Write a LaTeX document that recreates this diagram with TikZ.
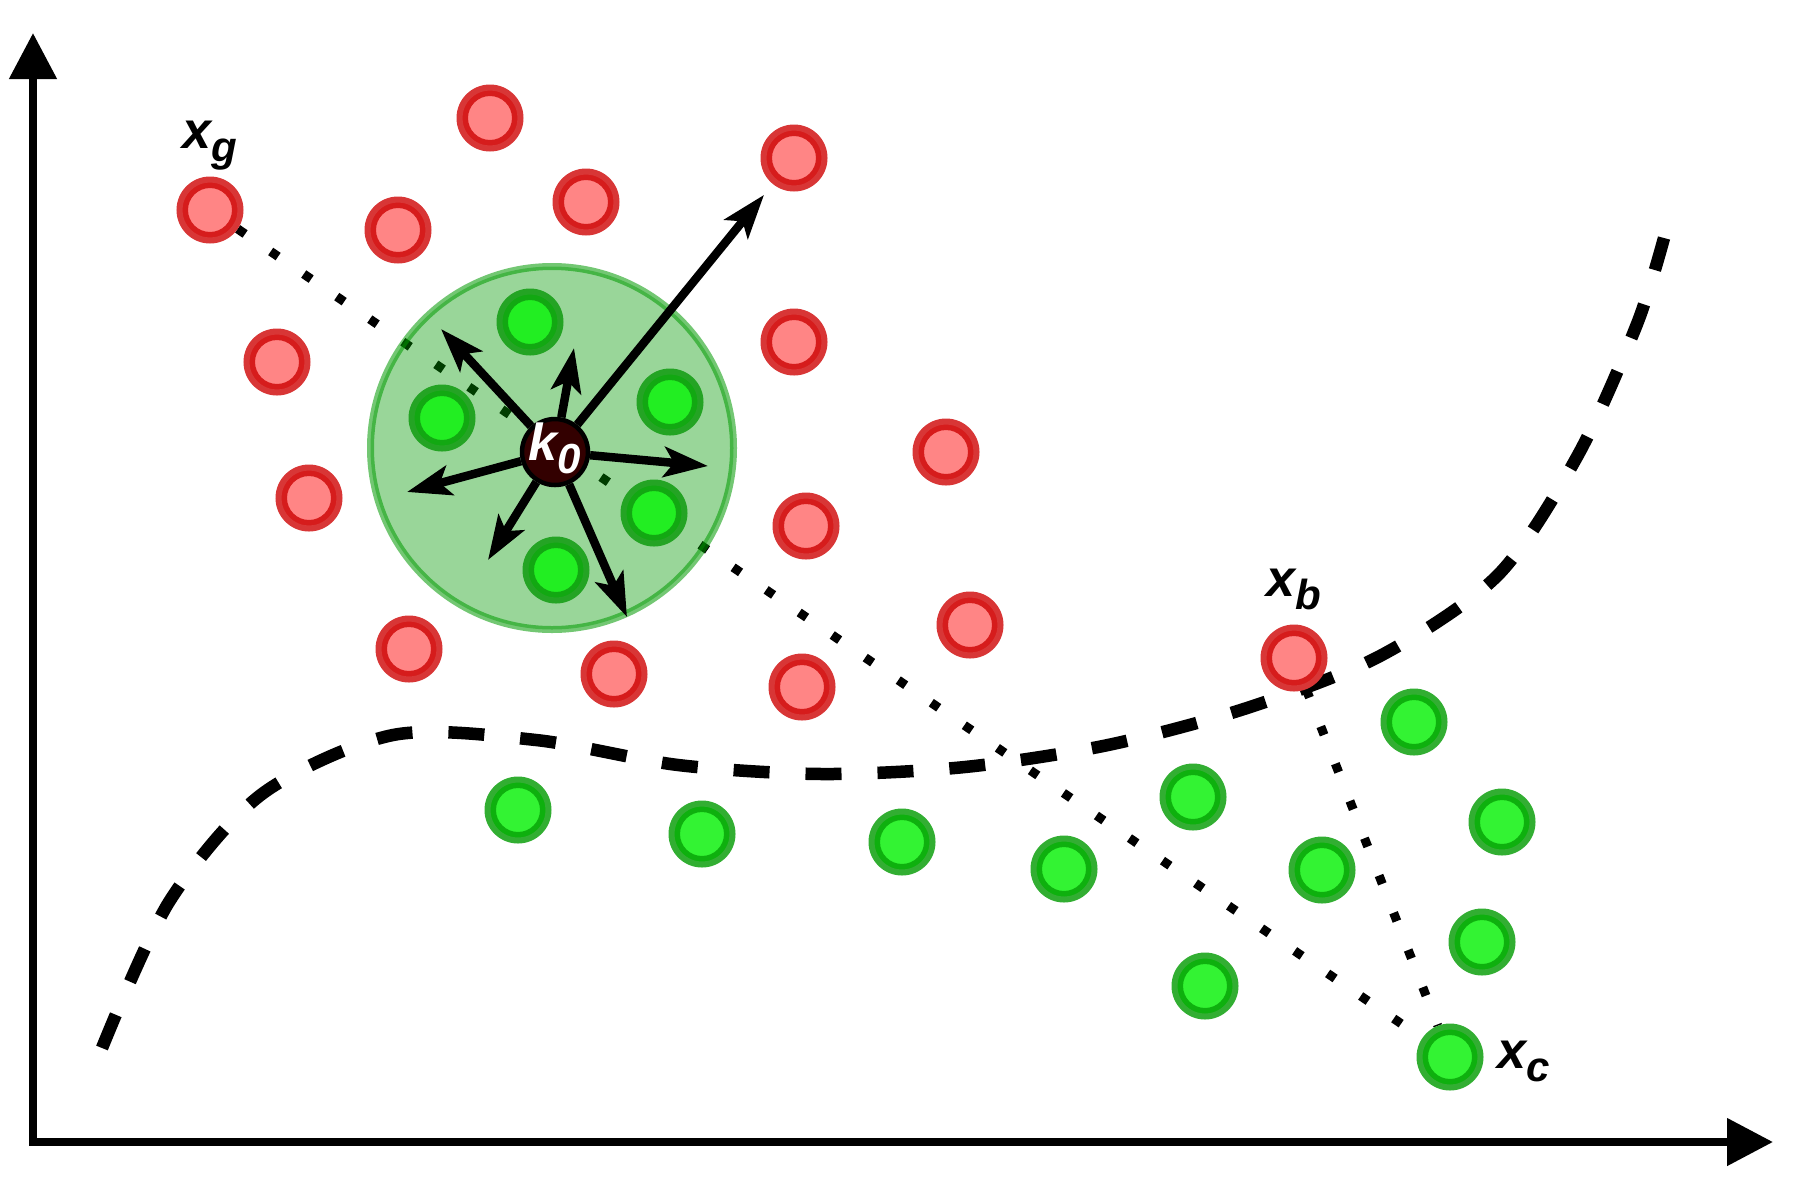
\documentclass[tikz,border=0pt]{standalone}
\usepackage{fontspec}
\newfontfamily\lblfont{Liberation Sans}
\usetikzlibrary{arrows.meta, positioning, backgrounds}

\definecolor{redfill}{RGB}{255,133,133}
\definecolor{redcore}{RGB}{214,28,28}
\definecolor{redring}{RGB}{216,54,54}
\definecolor{greenfill}{RGB}{51,243,51}
\definecolor{greencore}{RGB}{14,176,14}
\definecolor{greenring}{RGB}{50,174,50}
\definecolor{innerfill}{RGB}{34,238,34}
\definecolor{innercore}{RGB}{18,168,18}
\definecolor{innerring}{RGB}{36,164,36}
\definecolor{zonegreen}{RGB}{0,153,0}
\definecolor{kfill}{RGB}{51,0,0}

\newcommand{\ptname}[2]{{\lblfont\bfseries\itshape\fontsize{52}{60}\selectfont #1\raisebox{-13pt}{\fontsize{42}{48}\selectfont #2}}}

\begin{document}
\begin{tikzpicture}[
        x=1pt, y=-1pt,
        pointbase/.style n args={3}{
            circle, inner sep=0pt, minimum size=61pt, line width=6pt,
            draw=#1, fill=#3,
            path picture={\draw[line width=6pt, #2] (path picture bounding box.center) circle (25pt);}
        },
        redpt/.style={pointbase={redring}{redcore}{redfill}},
        greenpt/.style={pointbase={greenring}{greencore}{greenfill}},
        innerpt/.style={pointbase={innerring}{innercore}{innerfill}},
        zone/.style={
            circle, inner sep=0pt, minimum size=363pt, line width=7pt,
            draw=zonegreen, draw opacity=0.55, fill=zonegreen, fill opacity=0.4
        },
        kpt/.style={
            circle, inner sep=0pt, minimum size=66pt, line width=4.5pt,
            draw=black, fill=kfill
        },
        push/.style={-{Stealth[length=44pt, width=30pt, inset=10pt]}, line width=8.5pt},
        axis/.style={{Triangle[length=46pt, width=46pt]}-{Triangle[length=46pt, width=46pt]}, line width=8pt},
        boundary/.style={line width=12.5pt, dash pattern=on 36pt off 36pt},
        trail/.style={line width=9pt, dash pattern=on 9pt off 31pt},
        ptlabel/.style={inner sep=0pt}
    ]

    \useasboundingbox (0,0) rectangle (1812,1176);

    % RED POINTS
    \node[redpt] (xg) at (210,210) {};
    \node[redpt] (xb) at (1294,658) {};
    \foreach \px/\py [count=\i] in {490/118, 398/230, 586/202, 794/158, 277/362, 794/342,
            309/498, 946/452, 806/526, 970/625, 409/649, 614/674, 802/687}
        \node[redpt] (r\i) at (\px,\py) {};

    % NEIGHBOURHOOD OF k0
    \node[zone] (nbhd) at (552,448) {};
    \foreach \px/\py [count=\i] in {530/322, 442/418, 670/402, 654/513, 556/570}
        \node[innerpt] (n\i) at (\px,\py) {};

    % GREEN POINTS
    \node[greenpt] (xc) at (1450,1057) {};
    \foreach \px/\py [count=\i] in {518/810, 702/834, 902/842, 1064/869, 1193/797,
            1322/870, 1414/722, 1502/822, 1482/942, 1205/986}
        \node[greenpt] (g\i) at (\px,\py) {};

    % CENTRE POINT
    \node[kpt, label={[text=white, inner sep=0pt, yshift=4pt]center:\ptname{k}{0}}] (k0) at (555,452) {};

    % ARROWS
    \coordinate (aNW) at (441,329);
    \coordinate (aN) at (574,348);
    \coordinate (aE) at (708,466);
    \coordinate (aW) at (407,492);
    \coordinate (aSW) at (488,560);
    \coordinate (aSE) at (627,617);
    \foreach \t in {aNW, aN, aE, aW, aSW, aSE}
        \draw[push] (k0) -- (\t);
    \draw[push, shorten >=14pt] (k0) -- (r4);

    % LABELS
    \node[ptlabel, above=6.5pt of xg] (xglabel) {\ptname{x}{g}};
    \node[ptlabel, above=14pt of xb] (xblabel) {\ptname{x}{b}};
    \node[ptlabel, right=14pt of xc, yshift=-4pt] (xclabel) {\ptname{x}{c}};

    \begin{scope}[on background layer]
        % AXES
        \coordinate (origin) at (33,1142);
        \coordinate (ytip) at (33,33);
        \coordinate (xtip) at (1773,1142);
        \draw[axis] (ytip) -- (origin) -- (xtip);

        % DECISION BOUNDARY
        \draw[boundary] plot[smooth] coordinates {(102,1048) (169,902) (262,794) (393,735)
            (536,740) (678,765) (822,774) (965,767) (1108,745) (1247,708) (1380,656)
            (1498,575) (1578,455) (1637,324) (1664,238)};

        % PATHS
        \draw[trail] (xg) -- (xc);
        \draw[trail] (xb) -- (xc);
    \end{scope}

\end{tikzpicture}
\end{document}
